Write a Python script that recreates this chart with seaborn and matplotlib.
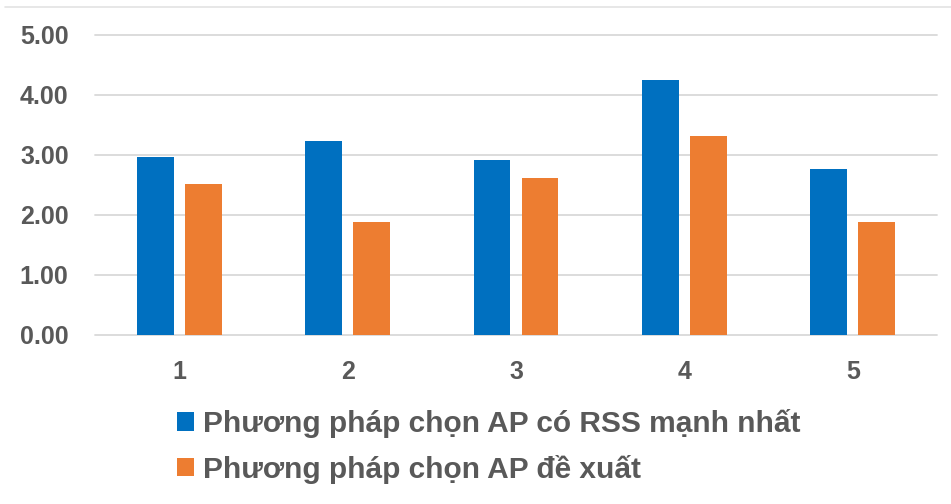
import matplotlib
matplotlib.use("Agg")
import matplotlib.pyplot as plt
from matplotlib.lines import Line2D
from matplotlib.ticker import FormatStrFormatter
import pandas as pd
import seaborn as sns

# Scenario labels and the two AP-selection methods
scenarios = ["1", "2", "3", "4", "5"]
method_rss = "Phương pháp chọn AP có RSS mạnh nhất"
method_new = "Phương pháp chọn AP đề xuất"
values_rss = [2.97, 3.24, 2.92, 4.25, 2.76]
values_new = [2.52, 1.89, 2.62, 3.32, 1.88]
y_ticks = [0, 1, 2, 3, 4, 5]

df = pd.DataFrame({
    "scenario": scenarios * 2,
    "method": [method_rss] * len(scenarios) + [method_new] * len(scenarios),
    "value": values_rss + values_new,
})

sns.set_theme(style="white")
plt.rcParams["font.family"] = ["Liberation Sans", "DejaVu Sans"]

text_color = "#595959"
grid_color = "#D9D9D9"
palette = {method_rss: "#0070C0", method_new: "#ED7D31"}

fig = plt.figure(figsize=(9.51, 5.04), dpi=100)
ax = fig.add_axes([95 / 951, 1 - 335 / 504, (937 - 95) / 951, 300 / 504])

sns.barplot(data=df, x="scenario", y="value", hue="method", order=scenarios,
            hue_order=[method_rss, method_new], palette=palette,
            width=0.57, gap=0.23, linewidth=0, saturation=1, ax=ax)

ax.set_ylim(0, 5)
ax.set_yticks(y_ticks)
ax.yaxis.set_major_formatter(FormatStrFormatter("%.2f"))
ax.set_xlim(-0.5, len(scenarios) - 0.5)
ax.set_xlabel("")
ax.set_ylabel("")

for y in y_ticks:
    ax.axhline(y, color=grid_color, linewidth=1.3, zorder=0, clip_on=False)
for side in ax.spines.values():
    side.set_visible(False)

ax.tick_params(axis="y", length=0, pad=19, labelsize=18, labelcolor=text_color)
ax.tick_params(axis="x", length=0, pad=18, labelsize=18, labelcolor=text_color)
for lbl in ax.get_xticklabels() + ax.get_yticklabels():
    lbl.set_fontweight("bold")

handles, labels = ax.get_legend_handles_labels()
leg = ax.legend(handles, labels, loc="upper left",
                bbox_to_anchor=(177 / 951, 1 - 409 / 504),
                bbox_transform=fig.transFigure, frameon=False,
                prop={"size": 21.5, "weight": "bold"},
                handlelength=0.57, handleheight=0.57, handletextpad=0.3,
                labelspacing=0.56, borderaxespad=0, borderpad=0)
for t in leg.get_texts():
    t.set_color(text_color)

# thin ruler line along the top edge
fig.add_artist(Line2D([5 / 951, 1], [1 - 7 / 504, 1 - 7 / 504],
                      transform=fig.transFigure, color="#E3E3E3", linewidth=1.2))

fig.savefig("out.png", dpi=100)
